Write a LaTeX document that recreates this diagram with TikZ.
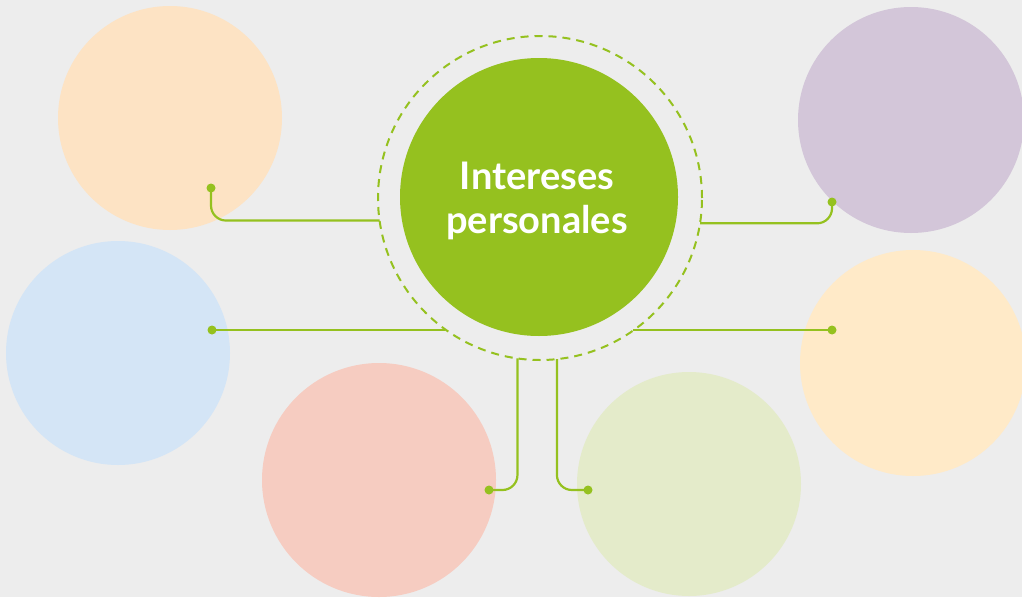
\documentclass[tikz,border=0pt]{standalone}
\usepackage{fontspec}
\setmainfont{Lato}
\definecolor{bgc}{HTML}{EDEDED}
\definecolor{grn}{HTML}{95C11F}
\definecolor{peach}{HTML}{FDE3C4}
\definecolor{bluec}{HTML}{D4E5F6}
\definecolor{pinkc}{HTML}{F6CCC1}
\definecolor{lgrn}{HTML}{E4EBCA}
\definecolor{purp}{HTML}{D3C6D9}
\definecolor{yell}{HTML}{FFEAC8}
\begin{document}
\begin{tikzpicture}[x=1pt,y=-1pt,
  bubble/.style={circle,inner sep=0pt,outer sep=0pt,minimum size=#1},
  conn/.style={draw=grn,line width=2.2pt,rounded corners=15pt},
  dotc/.style={circle,fill=grn,inner sep=0pt,minimum size=9pt}]
\useasboundingbox (0,0) rectangle (1022,597);
\fill[bgc] (0,0) rectangle (1022,597);
\clip (0,0) rectangle (1022,597);
% outer bubbles
\node[bubble=224pt,fill=peach] (b1) at (170,118) {};
\node[bubble=224pt,fill=bluec] (b2) at (118,353) {};
\node[bubble=234pt,fill=pinkc] (b3) at (379,480) {};
\node[bubble=224pt,fill=lgrn] (b4) at (689,484) {};
\node[bubble=226pt,fill=purp] (b5) at (911,120) {};
\node[bubble=226pt,fill=yell] (b6) at (913,363) {};
% centre
\node[bubble=324pt,draw=grn,line width=2pt,dash pattern=on 8pt off 6pt] (ring) at (540,198) {};
\node[bubble=278pt,fill=grn] (c) at (539,197) {};
\node[text=white,align=center,font=\fontsize{38}{44}\selectfont\bfseries] (t) at (537,201) {Intereses\\personales};
% dots
\node[dotc] (d1) at (211,188) {};
\node[dotc] (d2) at (212,330) {};
\node[dotc] (d3) at (489,490) {};
\node[dotc] (d4) at (588,490) {};
\node[dotc] (d5) at (832,202) {};
\node[dotc] (d6) at (832,330) {};
% connectors
\draw[conn] (d1.center) |- (ring.188.5);
\draw[conn] (d2.center) -- (d2.center -| ring.234.6);
\draw[conn] (d3.center) -| (ring.262.5);
\draw[conn] (d4.center) -| (ring.276.7);
\draw[conn] (d5.center) |- (ring.351.5);
\draw[conn] (d6.center) -- (d6.center -| ring.305.4);
\end{tikzpicture}
\end{document}
